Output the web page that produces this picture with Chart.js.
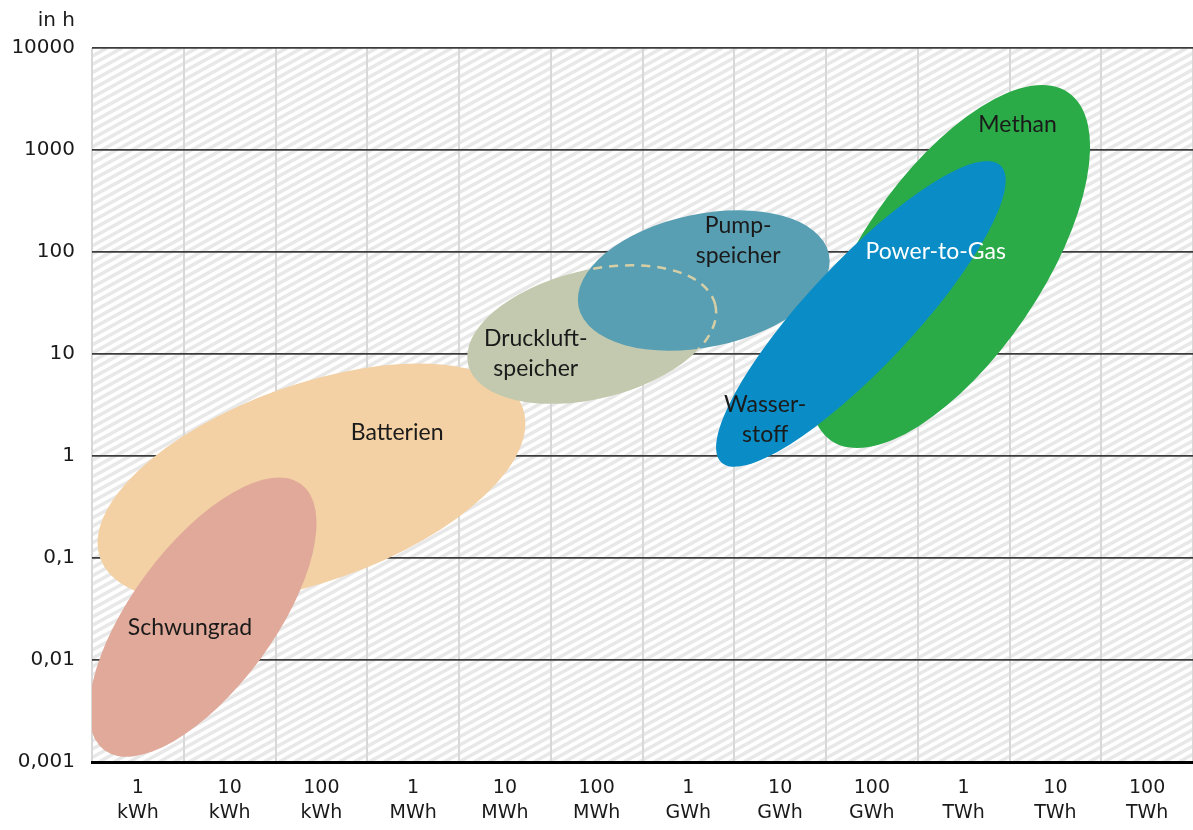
<!DOCTYPE html>
<html lang="de">
<head>
<meta charset="utf-8">
<title>Speicherkapazität und Ausspeicherdauer</title>
<script src="https://cdn.jsdelivr.net/npm/chart.js@4.4.1/dist/chart.umd.min.js"></script>
<style>
  html, body { margin: 0; padding: 0; background: #fff; }
  #wrap { width: 1193px; height: 830px; }
</style>
</head>
<body>
<div id="wrap"><canvas id="speicherChart"></canvas></div>
<script>
// x axis: storage capacity, one column per decade starting at 1 kWh
const capacityLabels = [
  ['1', 'kWh'], ['10', 'kWh'], ['100', 'kWh'],
  ['1', 'MWh'], ['10', 'MWh'], ['100', 'MWh'],
  ['1', 'GWh'], ['10', 'GWh'], ['100', 'GWh'],
  ['1', 'TWh'], ['10', 'TWh'], ['100', 'TWh']
];
// y axis: discharge duration in hours
const durationTicks = [0.001, 0.01, 0.1, 1, 10, 100, 1000, 10000];

// each technology is an ellipse: centre and end of its long axis (kWh, h),
// plus the ratio of short to long axis
const technologies = ['Batterien', 'Schwungrad', 'Druckluftspeicher', 'Pumpspeicher', 'Methan', 'Power-to-Gas'];
const centerKWh   = [78, 5.1, 88300, 1.47e6, 7.05e8, 7.59e7];
const centerHours = [0.543, 0.0263, 15.5, 52.6, 72, 24.7];
const tipKWh      = [15700, 60, 1.96e6, 3.4e7, 1.38e10, 2.52e9];
const tipHours    = [2.95, 0.531, 30.6, 95.5, 3670, 706];
const axisRatio   = [0.44, 0.43, 0.505, 0.52, 0.432, 0.26];
const fillColors  = ['#f3d1a5', '#e0a999', '#c3c9ae', '#599fb3', '#2bab47', '#0a8dc6'];

// text inside the ellipses
const labelLines = [['Schwungrad'], ['Batterien'], ['Druckluft-', 'speicher'], ['Pump-', 'speicher'],
                    ['Wasser-', 'stoff'], ['Power-to-Gas'], ['Methan']];
const labelKWh   = [3.7, 670, 21700, 3.49e6, 6.87e6, 4.97e8, 3.87e9];
const labelHours = [0.0206, 1.68, 10.2, 128, 2.26, 102, 1760];
const labelColor = ['#1a1a1a', '#1a1a1a', '#1a1a1a', '#1a1a1a', '#1a1a1a', '#ffffff', '#1a1a1a'];

// hatched background of the plot area
const hatchPlugin = {
  id: 'hatch',
  beforeDraw(chart) {
    const { ctx, chartArea: a } = chart;
    ctx.save();
    ctx.beginPath();
    ctx.rect(a.left, a.top, a.right - a.left, a.bottom - a.top);
    ctx.clip();
    ctx.fillStyle = '#ffffff';
    ctx.fillRect(a.left, a.top, a.right - a.left, a.bottom - a.top);
    ctx.strokeStyle = '#e8e8e8';
    ctx.lineWidth = 3.5;
    const rise = 0.55;
    const h = a.bottom - a.top;
    for (let x = a.left - h / rise; x < a.right; x += 15) {
      ctx.beginPath();
      ctx.moveTo(x, a.bottom);
      ctx.lineTo(x + h / rise, a.top);
      ctx.stroke();
    }
    ctx.restore();
  }
};

function ellipsePath(ctx, chart, i) {
  const xs = chart.scales.x, ys = chart.scales.y;
  const cx = xs.getPixelForValue(Math.log10(centerKWh[i]));
  const cy = ys.getPixelForValue(centerHours[i]);
  const tx = xs.getPixelForValue(Math.log10(tipKWh[i]));
  const ty = ys.getPixelForValue(tipHours[i]);
  const a = Math.hypot(tx - cx, ty - cy);
  ctx.beginPath();
  ctx.ellipse(cx, cy, a, a * axisRatio[i], Math.atan2(ty - cy, tx - cx), 0, Math.PI * 2);
}

const ellipsePlugin = {
  id: 'ellipses',
  afterDatasetsDraw(chart) {
    const { ctx, chartArea: area } = chart;
    const pump = technologies.indexOf('Pumpspeicher');
    const druck = technologies.indexOf('Druckluftspeicher');
    ctx.save();
    ctx.beginPath();
    ctx.rect(area.left, area.top, area.right - area.left, area.bottom - area.top);
    ctx.clip();
    technologies.forEach((name, i) => {
      ellipsePath(ctx, chart, i);
      ctx.fillStyle = fillColors[i];
      ctx.fill();
      if (i === pump) {
        // hidden part of the compressed-air area, dashed over the pumped storage
        ctx.save();
        ellipsePath(ctx, chart, pump);
        ctx.clip();
        ellipsePath(ctx, chart, druck);
        ctx.setLineDash([9, 7]);
        ctx.lineWidth = 2.5;
        ctx.strokeStyle = '#d6cfa6';
        ctx.stroke();
        ctx.restore();
      }
    });
    ctx.restore();

    // labels
    ctx.save();
    ctx.font = '23px Lato';
    ctx.textAlign = 'center';
    ctx.textBaseline = 'middle';
    const lh = 30;
    labelLines.forEach((lines, i) => {
      const x = chart.scales.x.getPixelForValue(Math.log10(labelKWh[i]));
      const y = chart.scales.y.getPixelForValue(labelHours[i]);
      ctx.fillStyle = labelColor[i];
      lines.forEach((t, k) => {
        ctx.fillText(t, x, y + (k - (lines.length - 1) / 2) * lh);
      });
    });
    // unit above the y axis
    ctx.font = '20px "DejaVu Sans"';
    ctx.textAlign = 'right';
    ctx.fillStyle = '#1a1a1a';
    ctx.fillText('in h', chart.scales.y.right - 17, area.top - 27);
    ctx.restore();
  }
};

const config = {
  type: 'line',
  data: {
    labels: capacityLabels,
    datasets: []
  },
  options: {
    responsive: false,
    animation: false,
    layout: { padding: { top: 48, right: 0, left: 0, bottom: 0 } },
    plugins: {
      legend: { display: false },
      tooltip: { enabled: false }
    },
    scales: {
      x: {
        type: 'category',
        offset: true,
        grid: { offset: true, color: '#d8d8d8', lineWidth: 2, drawTicks: false },
        border: { display: true, color: '#000', width: 3 },
        ticks: {
          color: '#1a1a1a',
          padding: 14,
          maxRotation: 0,
          autoSkip: false,
          font: { family: 'DejaVu Sans', size: 19, lineHeight: 1.3 }
        },
        afterFit(scale) { scale.height = 68; }
      },
      y: {
        type: 'logarithmic',
        min: 0.001,
        max: 10000,
        grid: { color: '#3c3c3c', lineWidth: 1.8, drawTicks: false },
        border: { display: false },
        afterBuildTicks(scale) {
          scale.ticks = durationTicks.map(v => ({ value: v }));
        },
        ticks: {
          color: '#1a1a1a',
          padding: 17,
          font: { family: 'DejaVu Sans', size: 20 },
          callback: v => String(v).replace('.', ',')
        },
        afterFit(scale) { scale.width = 92; }
      }
    }
  },
  plugins: [hatchPlugin, ellipsePlugin]
};

const canvas = document.getElementById('speicherChart');
canvas.width = 1193;
canvas.height = 830;
new Chart(canvas, config);
</script>
</body>
</html>
